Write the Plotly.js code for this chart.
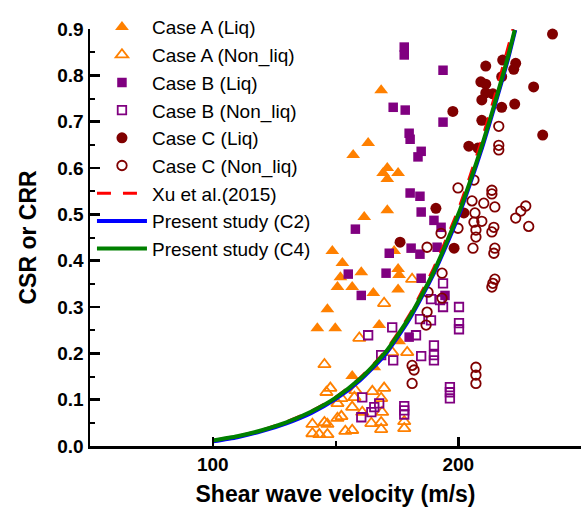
<!DOCTYPE html>
<html>
<head>
<meta charset="utf-8">
<script src="https://cdn.plot.ly/plotly-3.0.1.min.js"></script>
<style>html,body{margin:0;padding:0;background:#fff;}#chart{width:581px;height:508px;}</style>
</head>
<body>
<div id="chart"></div>
<script>
// ---- Data ----
const caseALiqVs  = [168.6,163.3,157.2,171.1,169.4,175.5,171.1,171.1,161.7,148.7,173.9,152.8,160.5,152.0,175.5,175.9,156.8,150.8,165.4,175.5,146.7,142.6,149.9,167.8,156.8,165.8,175.9];
const caseALiqCSR = [0.768,0.654,0.628,0.600,0.589,0.589,0.576,0.509,0.494,0.421,0.421,0.395,0.375,0.364,0.382,0.369,0.343,0.343,0.330,0.338,0.295,0.254,0.254,0.261,0.151,0.170,0.226];

const caseANonVs  = [145.5,147.9,146.3,150.8,152.4,156.8,157.7,165.0,169.8,168.6,160.9,169.0,140.6,145.5,146.7,150.8,152.4,140.6,143.4,146.7,156.8,164.6,168.6,168.6,178.0,178.0,173.1,179.2,159.7,181.2,169.8,158.1,154.0];
const caseANonCSR = [0.176,0.125,0.116,0.092,0.103,0.084,0.105,0.118,0.125,0.103,0.073,0.073,0.047,0.051,0.047,0.060,0.064,0.027,0.025,0.025,0.034,0.049,0.051,0.036,0.053,0.038,0.202,0.202,0.233,0.360,0.308,0.120,0.032];

const caseBLiqVs  = [178.0,178.0,193.8,173.5,178.4,193.8,180.0,180.4,184.9,183.6,180.4,184.4,184.9,190.1,158.1,193.0,171.9,180.8,184.4,191.4,155.2,170.6,160.5,184.9,180.0,194.6];
const caseBLiqCSR = [0.861,0.844,0.811,0.731,0.725,0.699,0.675,0.662,0.636,0.624,0.546,0.539,0.505,0.487,0.468,0.472,0.416,0.427,0.414,0.429,0.371,0.373,0.325,0.362,0.235,0.325];

const caseBNonVs  = [193.8,200.3,193.8,188.9,184.4,182.8,200.3,200.3,163.3,173.1,190.1,190.1,190.1,184.9,173.5,168.6,160.9,167.8,165.8,164.6,160.5,178.0,178.0,178.0,196.6,196.6,196.6,192.6,188.9];
const caseBNonCSR = [0.351,0.300,0.300,0.317,0.274,0.239,0.265,0.252,0.239,0.256,0.217,0.196,0.185,0.194,0.185,0.196,0.105,0.092,0.084,0.073,0.062,0.086,0.077,0.068,0.127,0.116,0.103,0.315,0.271];

const caseCLiqVs  = [238.4,211.2,218.1,223.4,222.6,217.7,209.2,211.2,230.7,211.2,214.1,209.6,217.7,223.0,197.8,209.6,234.4,204.3,208.0,190.9,176.3,202.3,198.3];
const caseCLiqCSR = [0.889,0.820,0.833,0.826,0.813,0.797,0.786,0.781,0.775,0.762,0.760,0.747,0.731,0.738,0.722,0.703,0.671,0.647,0.643,0.513,0.440,0.503,0.427];

const caseCNonVs  = [216.5,216.5,216.5,199.9,206.4,213.7,213.7,205.6,210.4,214.9,227.5,225.5,223.4,206.8,209.6,206.4,228.7,214.5,199.9,207.2,207.2,193.0,206.0,214.9,213.7,214.5,193.4,193.4,214.9,214.1,213.7,187.7,187.3,186.9,187.3,207.2,207.2,207.2,181.2,182.0,181.2];
const caseCNonCSR = [0.690,0.649,0.639,0.557,0.574,0.552,0.544,0.529,0.524,0.516,0.518,0.507,0.492,0.503,0.485,0.483,0.474,0.472,0.470,0.466,0.451,0.459,0.427,0.427,0.462,0.416,0.373,0.319,0.360,0.351,0.343,0.332,0.289,0.261,0.429,0.170,0.153,0.135,0.174,0.164,0.135];

const xuVs  = [100,110,120,130,140,150,160,170,180,190,200,205,210,215,220,222.3];
const xuCRR = [0.012,0.021,0.034,0.052,0.075,0.105,0.147,0.203,0.282,0.384,0.510,0.586,0.668,0.758,0.855,0.900];

const c2Vs  = [100,110,120,130,140,150,160,170,180,190,200,205,210,215,220,223.2];
const c2CRR = [0.010,0.019,0.032,0.049,0.071,0.101,0.142,0.196,0.273,0.372,0.495,0.569,0.649,0.737,0.830,0.898];

const c4Vs  = [100,110,120,130,140,150,160,170,180,190,200,205,210,215,220,223];
const c4CRR = [0.012,0.021,0.034,0.051,0.074,0.104,0.145,0.200,0.277,0.376,0.500,0.574,0.654,0.742,0.835,0.898];

const names = ['Case A (Liq)','Case A (Non_liq)','Case B (Liq)','Case B (Non_liq)','Case C (Liq)','Case C (Non_liq)','Xu et al.(2015)','Present study (C2)','Present study (C4)'];

// ---- Styles ----
const ORANGE = '#FF8000', PURPLE = '#800080', DARKRED = '#800000';
function pts(x, y, name, symbol, color, size) {
  const open = symbol.indexOf('open') >= 0;
  return {
    type: 'scatter', mode: 'markers', x: x, y: y, name: name, cliponaxis: false,
    marker: { symbol: symbol, size: size, color: color, line: { color: color, width: open ? 1.8 : 0 } }
  };
}
function curve(x, y, name, color, width, dash) {
  return { type: 'scatter', mode: 'lines', x: x, y: y, name: name,
    line: { color: color, width: width, dash: dash || 'solid', shape: 'spline', smoothing: 0.6 } };
}

const data = [
  pts(caseALiqVs, caseALiqCSR, names[0], 'triangle-up', ORANGE, 12),
  pts(caseANonVs, caseANonCSR, names[1], 'triangle-up-open', ORANGE, 11),
  pts(caseBLiqVs, caseBLiqCSR, names[2], 'square', PURPLE, 9.5),
  pts(caseBNonVs, caseBNonCSR, names[3], 'square-open', PURPLE, 8.5),
  pts(caseCLiqVs, caseCLiqCSR, names[4], 'circle', DARKRED, 11),
  pts(caseCNonVs, caseCNonCSR, names[5], 'circle-open', DARKRED, 9.5),
  curve(xuVs, xuCRR, names[6], '#FF0000', 3, '14px,12px'),
  curve(c2Vs, c2CRR, names[7], '#0000FF', 4),
  curve(c4Vs, c4CRR, names[8], '#008000', 4)
];

const FONT = 'Liberation Sans, Arial, sans-serif';
const layout = {
  width: 581, height: 508,
  margin: { l: 90, r: 0, t: 29, b: 62, pad: 0 },
  paper_bgcolor: '#fff', plot_bgcolor: '#fff',
  font: { family: FONT, color: '#000' },
  showlegend: true,
  legend: {
    x: 0.004, xanchor: 'left', y: 1.05, yanchor: 'top',
    bgcolor: 'rgba(0,0,0,0)', borderwidth: 0,
    font: { family: FONT, size: 19, color: '#000' },
    itemwidth: 50, tracegroupgap: 0, traceorder: 'normal'
  },
  xaxis: {
    range: [50, 250], tickvals: [100, 200], ticktext: ['100', '200'],
    showgrid: false, zeroline: false, showline: true, linecolor: '#000', linewidth: 2.5,
    ticks: 'inside', ticklen: 9, tickwidth: 2.5, tickcolor: '#000',
    minor: { ticks: 'inside', ticklen: 5, tickwidth: 2, tickcolor: '#000', tickvals: [150] },
    tickfont: { family: FONT, size: 19, color: '#000', weight: 'bold' },
    title: { text: 'Shear wave velocity (m/s)', font: { family: FONT, size: 23, color: '#000', weight: 'bold' }, standoff: 12 }
  },
  yaxis: {
    range: [0, 0.9], dtick: 0.1, tick0: 0, tickformat: '.1f',
    showgrid: false, zeroline: false, showline: true, linecolor: '#000', linewidth: 2.5,
    ticks: 'inside', ticklen: 10, tickwidth: 2.5, tickcolor: '#000',
    minor: { ticks: 'inside', ticklen: 5, tickwidth: 2, tickcolor: '#000', dtick: 0.05 },
    tickfont: { family: FONT, size: 19, color: '#000', weight: 'bold' },
    title: { text: 'CSR or CRR', font: { family: FONT, size: 23, color: '#000', weight: 'bold' }, standoff: 14 }
  }
};

Plotly.newPlot('chart', data, layout, { staticPlot: true, displayModeBar: false });
</script>
</body>
</html>
